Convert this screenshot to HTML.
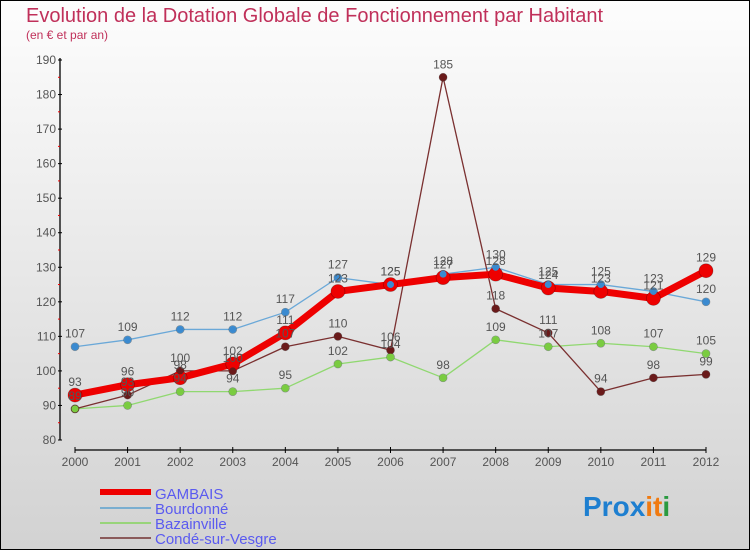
<!DOCTYPE html>
<html><head><meta charset="utf-8"><style>
body{margin:0;width:750px;height:550px;overflow:hidden;font-family:"Liberation Sans",sans-serif}
svg{display:block}
</style></head><body>
<svg id="c" width="750" height="550" xmlns="http://www.w3.org/2000/svg">
<defs><linearGradient id="bg" x1="0" y1="0" x2="0" y2="1"><stop offset="0" stop-color="#fdfdfd"/><stop offset="1" stop-color="#d2d2d2"/></linearGradient></defs>
<rect x="0.5" y="0.5" width="749" height="549" fill="url(#bg)" stroke="#000"/>
<text x="26" y="22" font-size="20" fill="#c0305a">Evolution de la Dotation Globale de Fonctionnement par Habitant</text>
<text x="26" y="39" font-size="12" fill="#c0305a">(en € et par an)</text>
<g id="axes"></g><g id="series"></g><g id="labels"></g>
<g>
<rect x="100" y="489" width="51" height="6" fill="#e00"/>
<text x="155" y="499" font-size="15" fill="#5a5af0">GAMBAIS</text>
<rect x="100" y="507" width="51" height="2" fill="#7aaed0"/>
<text x="155" y="514" font-size="15" fill="#5a5af0">Bourdonné</text>
<rect x="100" y="522" width="51" height="2" fill="#98d47a"/>
<text x="155" y="529" font-size="15" fill="#5a5af0">Bazainville</text>
<rect x="100" y="537" width="51" height="2" fill="#8a5a5a"/>
<text x="155" y="544" font-size="15" fill="#5a5af0">Condé-sur-Vesgre</text>
</g>
<g font-size="28" font-weight="bold">
<text x="583" y="516"><tspan fill="#1e7fd0">Pro</tspan><tspan fill="#1e7fd0">x</tspan><tspan fill="#f07a10">i</tspan><tspan fill="#f07a10">t</tspan><tspan fill="#2a9a40">i</tspan></text>
</g>
</svg>
<script>
const years=[2000,2001,2002,2003,2004,2005,2006,2007,2008,2009,2010,2011,2012];
const gambais=[93,96,98,102,111,123,125,127,128,124,123,121,129];
const bourdonne=[107,109,112,112,117,127,125,128,130,125,125,123,120];
const bazainville=[89,90,94,94,95,102,104,98,109,107,108,107,105];
const conde=[89,93,100,100,107,110,106,185,118,111,94,98,99];
const yTicks=[80,90,100,110,120,130,140,150,160,170,180,190];
const NS="http://www.w3.org/2000/svg";
function X(i){return 75+i*(706-75)/(years.length-1);}
function Y(v){return 440-(v-80)*(380/110);}
function mk(tag,attrs,parent,txt){const e=document.createElementNS(NS,tag);for(const k in attrs)e.setAttribute(k,attrs[k]);if(txt!==undefined)e.textContent=txt;parent.appendChild(e);return e;}
const ax=document.getElementById('axes');
let l=mk('line',{x1:60,y1:58,x2:60,y2:440,stroke:'#000','stroke-width':1.3},ax);


yTicks.forEach(v=>{
 mk('line',{x1:58,y1:Y(v),x2:62,y2:Y(v),stroke:'#000'},ax);
 if(v<190)mk('line',{x1:58,y1:Y(v+5),x2:60,y2:Y(v+5),stroke:'#e00'},ax);
 const t=mk('text',{x:56,y:Y(v)+4,'font-size':12,fill:'#555','text-anchor':'end'},ax,String(v));
 
 
});
l=mk('line',{x1:75,y1:450,x2:706,y2:450,stroke:'#000','stroke-width':1.3},ax);


years.forEach((y,i)=>{
 mk('line',{x1:X(i),y1:447,x2:X(i),y2:453,stroke:'#000'},ax);
 const t=mk('text',{x:X(i),y:466,'font-size':12,fill:'#555','text-anchor':'middle'},ax,String(y));
 
 
});
const sg=document.getElementById('series'),lg=document.getElementById('labels');
function draw(name,vals,color,w,r){
 const g=mk('g',{},sg);
 
 
 const p=mk('polyline',{points:vals.map((v,i)=>X(i)+','+Y(v)).join(' '),fill:'none',stroke:color,'stroke-width':w,'stroke-linejoin':'round'},g);
 
 
 vals.forEach((v,i)=>{
  const c=mk('circle',{cx:X(i),cy:Y(v),r:r,fill:color,stroke:'rgba(0,0,0,0.3)','stroke-width':0.7},g);
  
  
  const t=mk('text',{x:X(i),y:Y(v)-9,'font-size':12,fill:'#555','text-anchor':'middle'},lg,String(v));
  
  
 });
}
draw('bourdonne',bourdonne,'#6aa8d8',1.3,4);
draw('bazainville',bazainville,'#90d870',1.3,4);
draw('conde',conde,'#7a3030',1.3,4);
draw('gambais',gambais,'#ee0000',7,7);
// redraw bourdonne points on top lightly
bourdonne.forEach((v,i)=>{const c=mk('circle',{cx:X(i),cy:Y(v),r:3.5,fill:'#3a8ad0'},sg);
 
 });
conde.forEach((v,i)=>{const c=mk('circle',{cx:X(i),cy:Y(v),r:3.5,fill:'#6a1a1a'},sg);
 
 });
bazainville.forEach((v,i)=>{const c=mk('circle',{cx:X(i),cy:Y(v),r:3.5,fill:'#7acc40'},sg);
 
 });
</script>
</body></html>
